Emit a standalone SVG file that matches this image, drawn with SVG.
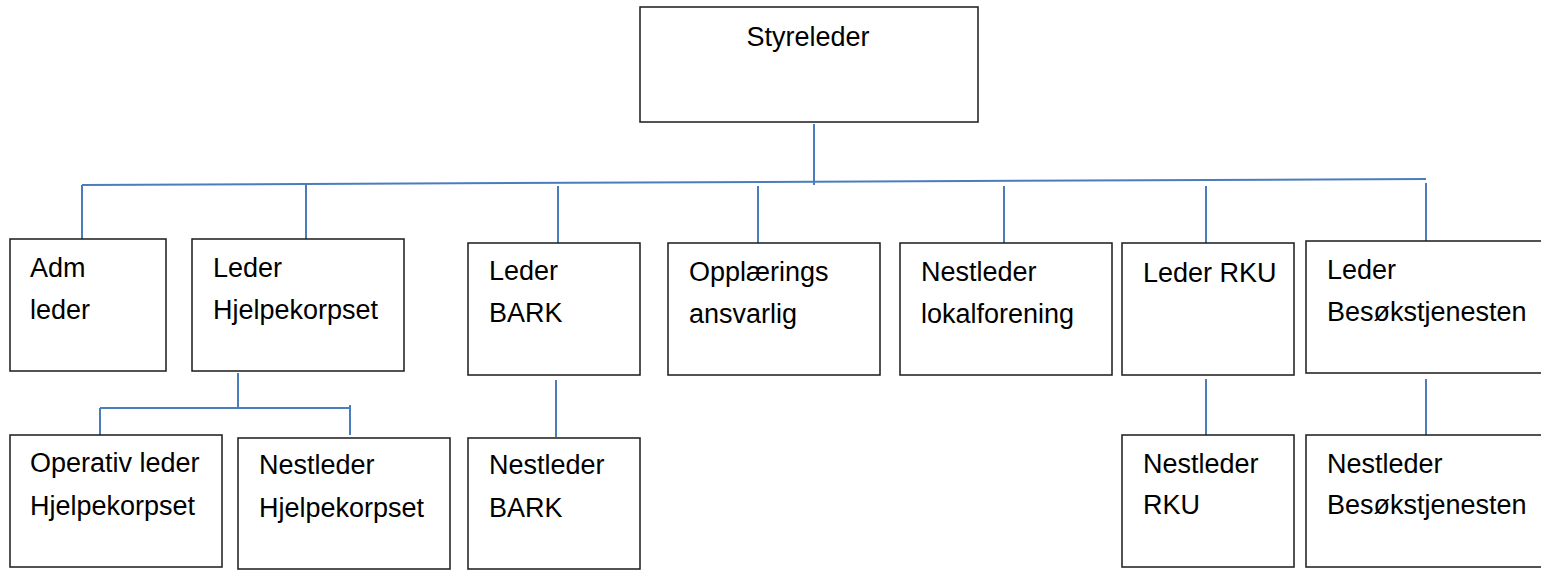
<svg xmlns="http://www.w3.org/2000/svg" width="1541" height="570" viewBox="0 0 1541 570">
<style>
.box{fill:#fff;stroke:#1a1a1a;stroke-width:1.5}
.t{font-family:"Liberation Sans",Arial,sans-serif;font-size:27px;fill:#000}
.c{stroke:#4a7ebb;stroke-width:2;fill:none}
</style>
<rect width="1541" height="570" fill="#fff"/>
<g id="connectors">
<line class="c" x1="814" y1="124" x2="814" y2="185"/>
<line class="c" x1="82" y1="185" x2="1426" y2="179"/>
<line class="c" x1="82" y1="185" x2="82" y2="242"/>
<line class="c" x1="306" y1="185" x2="306" y2="242"/>
<line class="c" x1="558" y1="186" x2="558" y2="243"/>
<line class="c" x1="758" y1="186" x2="758" y2="243"/>
<line class="c" x1="1004" y1="186" x2="1004" y2="243"/>
<line class="c" x1="1206" y1="186" x2="1206" y2="243"/>
<line class="c" x1="1426" y1="183" x2="1426" y2="241"/>
<line class="c" x1="238" y1="373" x2="238" y2="408"/>
<line class="c" x1="100" y1="408" x2="350" y2="408"/>
<line class="c" x1="100" y1="408" x2="100" y2="437"/>
<line class="c" x1="350" y1="405" x2="350" y2="435"/>
<line class="c" x1="556" y1="380" x2="556" y2="437"/>
<line class="c" x1="1206" y1="379" x2="1206" y2="437"/>
<line class="c" x1="1426" y1="379" x2="1426" y2="437"/>
</g>
<g id="styreleder"><rect class="box" x="640" y="7" width="338" height="115"/><text class="t" x="808" y="46" text-anchor="middle">Styreleder</text></g>
<g id="adm-leder"><rect class="box" x="10" y="239" width="156" height="132"/><text class="t" x="30" y="277">Adm</text><text class="t" x="30" y="319">leder</text></g>
<g id="leder-hjelpekorpset"><rect class="box" x="192" y="239" width="212" height="132"/><text class="t" x="213" y="277">Leder</text><text class="t" x="213" y="319">Hjelpekorpset</text></g>
<g id="leder-bark"><rect class="box" x="468" y="243" width="172" height="132"/><text class="t" x="489" y="280">Leder</text><text class="t" x="489" y="322">BARK</text></g>
<g id="opplaerings"><rect class="box" x="668" y="243" width="212" height="132"/><text class="t" x="689" y="281">Opplærings</text><text class="t" x="689" y="323">ansvarlig</text></g>
<g id="nestleder-lokal"><rect class="box" x="900" y="243" width="212" height="132"/><text class="t" x="921" y="281">Nestleder</text><text class="t" x="921" y="323">lokalforening</text></g>
<g id="leder-rku"><rect class="box" x="1122" y="243" width="172" height="132"/><text class="t" x="1143" y="282">Leder RKU</text></g>
<g id="leder-besok"><rect class="box" x="1306" y="241" width="245" height="132"/><text class="t" x="1327" y="279">Leder</text><text class="t" x="1327" y="321">Besøkstjenesten</text></g>
<g id="operativ-leder"><rect class="box" x="10" y="435" width="212" height="132"/><text class="t" x="30" y="472">Operativ leder</text><text class="t" x="30" y="515">Hjelpekorpset</text></g>
<g id="nestleder-hjelpekorpset"><rect class="box" x="238" y="438" width="212" height="131"/><text class="t" x="259" y="474">Nestleder</text><text class="t" x="259" y="517">Hjelpekorpset</text></g>
<g id="nestleder-bark"><rect class="box" x="468" y="438" width="172" height="131"/><text class="t" x="489" y="474">Nestleder</text><text class="t" x="489" y="517">BARK</text></g>
<g id="nestleder-rku"><rect class="box" x="1122" y="435" width="172" height="132"/><text class="t" x="1143" y="473">Nestleder</text><text class="t" x="1143" y="514">RKU</text></g>
<g id="nestleder-besok"><rect class="box" x="1306" y="435" width="245" height="132"/><text class="t" x="1327" y="473">Nestleder</text><text class="t" x="1327" y="514">Besøkstjenesten</text></g>
</svg>
